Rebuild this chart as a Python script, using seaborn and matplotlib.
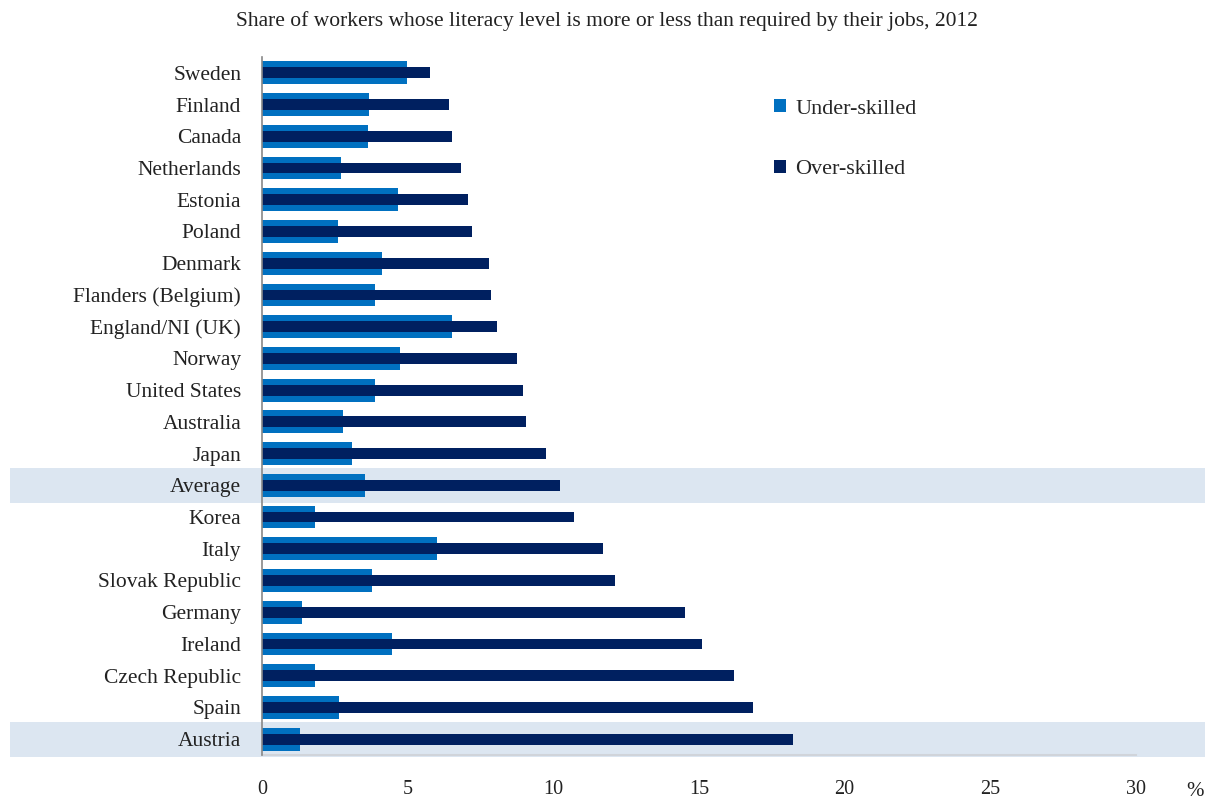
import numpy as np
import pandas as pd
import seaborn as sns
import matplotlib.pyplot as plt
from matplotlib.patches import Rectangle
from matplotlib.transforms import blended_transform_factory

countries = ['Sweden', 'Finland', 'Canada', 'Netherlands', 'Estonia', 'Poland',
             'Denmark', 'Flanders (Belgium)', 'England/NI (UK)', 'Norway',
             'United States', 'Australia', 'Japan', 'Average', 'Korea', 'Italy',
             'Slovak Republic', 'Germany', 'Ireland', 'Czech Republic', 'Spain',
             'Austria']
under_skilled = [4.98, 3.67, 3.64, 2.71, 4.67, 2.61, 4.12, 3.88, 6.52, 4.74,
                 3.88, 2.78, 3.09, 3.54, 1.82, 6.01, 3.78, 1.36, 4.46, 1.82,
                 2.66, 1.30]
over_skilled = [5.77, 6.42, 6.52, 6.83, 7.07, 7.21, 7.79, 7.85, 8.08, 8.77,
                8.95, 9.07, 9.75, 10.23, 10.71, 11.69, 12.11, 14.51, 15.12,
                16.21, 16.84, 18.23]
highlight = ['Average', 'Austria']
xticks = [0, 5, 10, 15, 20, 25, 30]

df = pd.DataFrame({'country': countries, 'under': under_skilled, 'over': over_skilled})

sns.set_style('white')
plt.rcParams['font.family'] = ['Liberation Serif', 'DejaVu Serif']

fig = plt.figure(figsize=(12.14, 8.01), dpi=100)
ax = fig.add_axes([262 / 1214, 1 - 755 / 801, (1136 - 262) / 1214, (755 - 57) / 801])

# highlight bands span almost the full figure width
trans = blended_transform_factory(fig.transFigure, ax.transData)
for name in highlight:
    i = countries.index(name)
    ax.add_patch(Rectangle((10 / 1214, i - 0.55), 1195 / 1214, 1.1, transform=trans,
                           facecolor='#dce6f1', edgecolor='none', clip_on=False, zorder=0))

sns.barplot(data=df, y='country', x='under', color='#0070c0', width=0.72,
            saturation=1, ax=ax, label='Under-skilled', zorder=2,
            edgecolor='none', linewidth=0)
sns.barplot(data=df, y='country', x='over', color='#002060', width=0.34,
            saturation=1, ax=ax, label='Over-skilled', zorder=3,
            edgecolor='none', linewidth=0)

ax.set_xlim(0, 30)
ax.set_ylim(len(countries) - 0.5, -0.5)
ax.set_xticks(xticks)
ax.set_xlabel('')
ax.set_ylabel('')
ax.set_facecolor('none')
ax.tick_params(axis='x', length=0, pad=18, labelsize=14.5, colors='#222222')
ax.tick_params(axis='y', length=0, pad=15, labelsize=15.5, colors='#222222')
for s in ['top', 'right']:
    ax.spines[s].set_visible(False)
ax.spines['left'].set_color('#888888')
ax.spines['bottom'].set_color('#d0d4da')
ax.spines['left'].set_linewidth(1.2)
ax.spines['bottom'].set_linewidth(1.5)
ax.spines['left'].set_zorder(4)

fig.text(1195 / 1214, 1 - 792 / 801, '%', fontsize=15, ha='center', va='center',
         color='#222222')
fig.text(0.5, 1 - 21 / 801,
         'Share of workers whose literacy level is more or less than required by their jobs, 2012',
         fontsize=15.5, ha='center', va='center', color='#222222')

ax.legend(loc='upper left', bbox_to_anchor=(754 / 1214, 1 - 79 / 801),
          bbox_transform=fig.transFigure, frameon=False, fontsize=16,
          handlelength=0.55, handleheight=0.55, handletextpad=0.4, labelspacing=1.85)

fig.savefig('out.png', dpi=100)
